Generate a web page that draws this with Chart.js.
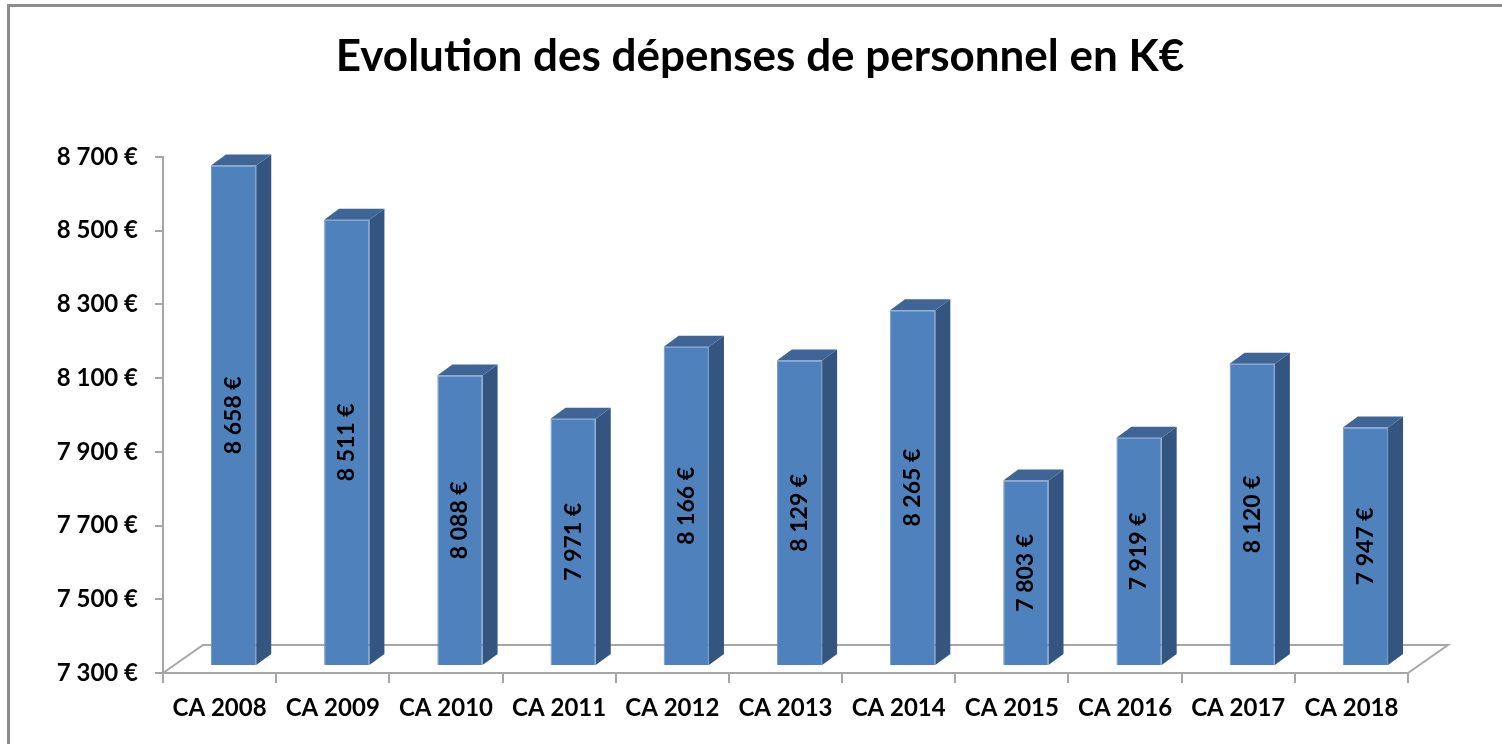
<!DOCTYPE html>
<html>
<head>
<meta charset="utf-8">
<script src="https://cdn.jsdelivr.net/npm/chart.js@4"></script>
<style>
  body { margin: 0; background: #fff; }
  canvas { display: block; }
</style>
</head>
<body>
<canvas id="chart" width="1502" height="744"></canvas>
<script>
var categories = ["CA 2008", "CA 2009", "CA 2010", "CA 2011", "CA 2012", "CA 2013", "CA 2014", "CA 2015", "CA 2016", "CA 2017", "CA 2018"];
var depenses = [8658, 8511, 8088, 7971, 8166, 8129, 8265, 7803, 7919, 8120, 7947];
var yTicks = [7300, 7500, 7700, 7900, 8100, 8300, 8500, 8700];
var title = "Evolution des dépenses de personnel en K€";

var FONT = "Lato, 'Open Sans', sans-serif";
var AXIS_GREY = "#a6a6a6";

function euro(v) {
    return String(v).replace(/\B(?=(\d{3})+(?!\d))/g, " ") + " €";
}

// fake 3D: floor depth and bar depth
var floor3d = { dx: 40, dy: -28 };
var bar3d = { dx: 15, dy: -11, shiftX: 14, shiftY: -7 };

var threeD = {
    id: "threeD",
    beforeDraw: function(chart) {
        var ctx = chart.ctx;
        ctx.save();
        ctx.fillStyle = "#fff";
        ctx.fillRect(0, 0, chart.width, chart.height);
        // frame of the excel chart
        ctx.strokeStyle = "#8c8c8c";
        ctx.lineWidth = 3;
        ctx.strokeRect(8.5, 5.5, chart.width + 20, chart.height + 20);
        // title
        ctx.fillStyle = "#000";
        ctx.font = "bold 44px " + FONT;
        ctx.textAlign = "center";
        ctx.textBaseline = "alphabetic";
        ctx.fillText(title, 760, 71);
        ctx.restore();
    },
    beforeDatasetsDraw: function(chart) {
        var ctx = chart.ctx, a = chart.chartArea;
        ctx.save();
        ctx.strokeStyle = AXIS_GREY;
        ctx.lineWidth = 2;
        ctx.beginPath();
        ctx.moveTo(a.left, a.bottom);
        ctx.lineTo(a.left + floor3d.dx, a.bottom + floor3d.dy);
        ctx.lineTo(a.right + floor3d.dx, a.bottom + floor3d.dy);
        ctx.lineTo(a.right, a.bottom);
        ctx.stroke();
        ctx.restore();
    },
    beforeDatasetDraw: function(chart, args) {
        var ctx = chart.ctx;
        ctx.save();
        ctx.translate(bar3d.shiftX, bar3d.shiftY);
        args.meta.data.forEach(function(bar) {
            var p = bar.getProps(["x", "y", "base", "width"], true);
            var l = p.x - p.width / 2, r = p.x + p.width / 2;
            // side
            ctx.fillStyle = "#34557f";
            ctx.beginPath();
            ctx.moveTo(r, p.y);
            ctx.lineTo(r + bar3d.dx, p.y + bar3d.dy);
            ctx.lineTo(r + bar3d.dx, p.base + bar3d.dy);
            ctx.lineTo(r, p.base);
            ctx.closePath();
            ctx.fill();
            // top
            ctx.fillStyle = "#3e6595";
            ctx.beginPath();
            ctx.moveTo(l, p.y);
            ctx.lineTo(l + bar3d.dx, p.y + bar3d.dy);
            ctx.lineTo(r + bar3d.dx, p.y + bar3d.dy);
            ctx.lineTo(r, p.y);
            ctx.closePath();
            ctx.fill();
        });
    },
    afterDatasetDraw: function(chart) {
        chart.ctx.restore();
    },
    afterDatasetsDraw: function(chart) {
        var ctx = chart.ctx;
        var meta = chart.getDatasetMeta(0);
        ctx.save();
        ctx.fillStyle = "#000";
        ctx.font = "bold 23px " + FONT;
        ctx.textAlign = "center";
        ctx.textBaseline = "middle";
        meta.data.forEach(function(bar, i) {
            var p = bar.getProps(["x", "y", "base"], true);
            ctx.save();
            ctx.translate(p.x + bar3d.shiftX, (p.y + p.base) / 2 + bar3d.shiftY);
            ctx.rotate(-Math.PI / 2);
            ctx.fillText(euro(depenses[i]), 0, 0);
            ctx.restore();
        });
        ctx.restore();
    }
};

var chart = new Chart(document.getElementById("chart").getContext("2d"), {
    type: "bar",
    data: {
        labels: categories,
        datasets: [{
            data: depenses,
            base: yTicks[0],
            backgroundColor: "#4f81bd",
            borderColor: "#6f97c9",
            borderWidth: 1,
            barPercentage: 0.4,
            categoryPercentage: 1,
            clip: false
        }]
    },
    options: {
        responsive: false,
        animation: false,
        layout: { padding: { top: 157, left: 0, right: 94, bottom: 0 } },
        plugins: {
            legend: { display: false },
            title: { display: false },
            tooltip: { enabled: false }
        },
        scales: {
            x: {
                grid: { drawOnChartArea: false, tickLength: 10, color: AXIS_GREY, lineWidth: 2 },
                border: { color: AXIS_GREY, width: 2 },
                ticks: { color: "#000", font: { family: FONT, weight: "bold", size: 24 }, padding: 11, maxRotation: 0 },
                afterFit: function(s) { s.height = 71; }
            },
            y: {
                min: 7300,
                max: 8700,
                afterBuildTicks: function(s) { s.ticks = yTicks.map(function(v) { return { value: v }; }); },
                grid: { drawOnChartArea: false, tickLength: 8, color: AXIS_GREY, lineWidth: 2 },
                border: { color: AXIS_GREY, width: 2 },
                ticks: { color: "#000", font: { family: FONT, weight: "bold", size: 24 }, padding: 17, callback: function(v) { return euro(v); } },
                afterFit: function(s) { s.width = 163; }
            }
        }
    },
    plugins: [threeD]
});
</script>
</body>
</html>
